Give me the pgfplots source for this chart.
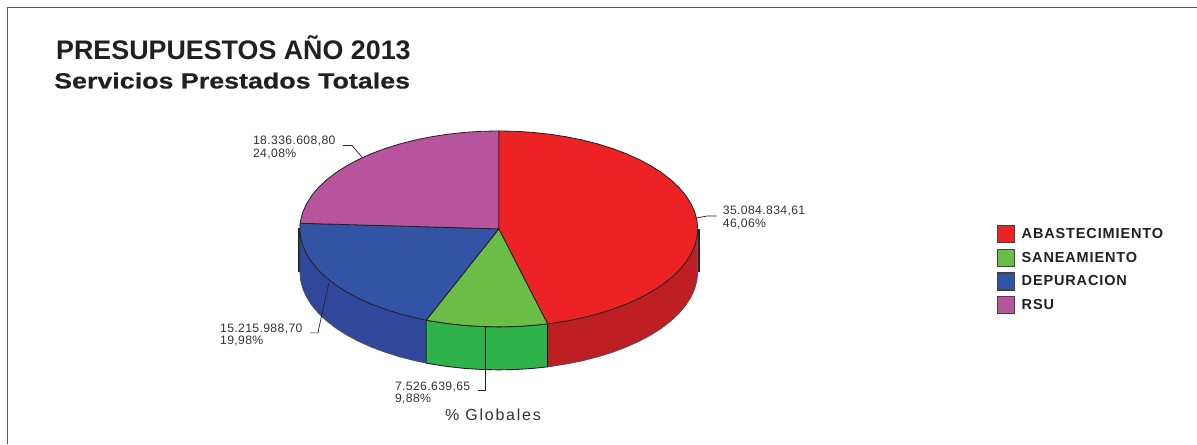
\documentclass[border=0pt]{standalone}
\usepackage{pgfplots}
\pgfplotsset{compat=1.18}
\usepackage{fontspec}
\setmainfont{Liberation Sans}
\newfontfamily\lab[LetterSpace=3]{Liberation Sans}
\newfontfamily\glob[LetterSpace=11]{Liberation Sans}
\newfontfamily\leg[LetterSpace=6]{Liberation Sans}
\newfontfamily\wide[FakeStretch=1.22,FakeBold=0.4]{Liberation Sans}
\definecolor{rtop}{HTML}{ED2224}
\definecolor{gtop}{HTML}{6ABD45}
\definecolor{btop}{HTML}{3353A4}
\definecolor{ptop}{HTML}{B8539D}
\definecolor{rside}{HTML}{BD1F25}
\definecolor{gside}{HTML}{2EB34B}
\definecolor{bside}{HTML}{30479B}
\definecolor{edge}{HTML}{231F20}
\definecolor{txt}{HTML}{333333}
\begin{document}
\begin{tikzpicture}
\begin{axis}[
  scale only axis, width=1197pt, height=444pt,
  xmin=0, xmax=1197, ymin=0, ymax=444, y dir=reverse,
  hide axis, clip=false,
  legend style={at={(axis cs:997.5,225)},anchor=north west,draw=none,fill=none,
    font=\fontsize{14.5}{16}\leg\bfseries\color{edge},
    row sep=5.7pt, inner sep=0pt, outer sep=0pt,
    /tikz/every odd column/.append style={column sep=5.5pt},
    nodes={inner sep=1pt}},
  legend cell align=left,
  legend image code/.code={\draw[#1,line width=1.1pt,draw=edge!85] (0pt,-8.5pt) rectangle (17pt,8.5pt);},
]
% page extent and frame
\addplot[draw=none,forget plot] coordinates {(0,0)(1197,444)};
\addplot[forget plot,draw=black!65,line width=1pt] coordinates {(8,444)(8,8)(1197,8)};
% sides
\addplot[forget plot,draw=edge,line width=1.7pt] coordinates {(298.8,228)(298.8,272)};
\addplot[forget plot,draw=edge,line width=1.7pt] coordinates {(699,229)(699,272)};
\addplot[forget plot,fill=rside,draw=edge!80,line width=.7pt] coordinates {(698,229)(697.24,237.54)(694.98,246.02)(691.22,254.36)(686,262.52)(679.36,270.42)(671.34,278)(662.01,285.21)(651.44,291.99)(639.71,298.30)(626.91,304.07)(613.14,309.28)(598.50,313.87)(583.10,317.82)(567.06,321.09)(550.51,323.66)(547.8,324)
 (547.8,367)(550.51,366.66)(567.06,364.09)(583.10,360.82)(598.50,356.87)(613.14,352.28)(626.91,347.07)(639.71,341.30)(651.44,334.99)(662.01,328.21)(671.34,321)(679.36,313.42)(686,305.52)(691.22,297.36)(694.98,289.02)(697.24,280.54)(698,272)} --cycle;
\addplot[forget plot,fill=bside,draw=edge!80,line width=.7pt] coordinates {(426.4,320.25)(414.9,317.82)(399.5,313.87)(384.86,309.28)(371.09,304.07)(358.29,298.30)(346.56,291.99)(335.99,285.21)(326.66,278)(318.64,270.42)(312,262.52)(306.78,254.36)(303.02,246.02)(300.76,237.54)(300,229)
 (300,272)(300.76,280.54)(303.02,289.02)(306.78,297.36)(312,305.52)(318.64,313.42)(326.66,321)(335.99,328.21)(346.56,334.99)(358.29,341.30)(371.09,347.07)(384.86,352.28)(399.5,356.87)(414.9,360.82)(426.4,363.25)} --cycle;
\addplot[forget plot,fill=gside,draw=edge,line width=.9pt] coordinates {(547.8,324)(533.56,325.51)(516.34,326.63)(499,327)(481.66,326.63)(464.44,325.51)(447.49,323.66)(430.94,321.09)(426.4,320.25)
 (426.4,363.25)(430.94,364.09)(447.49,366.66)(464.44,368.51)(481.66,369.63)(499,370)(516.34,369.63)(533.56,368.51)(547.8,367)} --cycle;
% top wedges
\addplot[fill=rtop,draw=edge,line width=.8pt] coordinates {(499,229)(499,131)(516.34,131.37)(533.56,132.49)(550.51,134.34)(567.06,136.91)(583.10,140.18)(598.50,144.13)(613.14,148.72)(626.91,153.93)(639.71,159.70)(651.44,166.01)(662.01,172.79)(671.34,180)(679.36,187.58)(686,195.48)(691.22,203.64)(694.98,211.98)(697.24,220.46)(698,229)(697.24,237.54)(694.98,246.02)(691.22,254.36)(686,262.52)(679.36,270.42)(671.34,278)(662.01,285.21)(651.44,291.99)(639.71,298.30)(626.91,304.07)(613.14,309.28)(598.50,313.87)(583.10,317.82)(567.06,321.09)(550.51,323.66)(547.8,324)} --cycle;
\addlegendentry{ABASTECIMIENTO}
\addplot[fill=gtop,draw=edge,line width=.8pt] coordinates {(499,229)(547.8,324)(533.56,325.51)(516.34,326.63)(499,327)(481.66,326.63)(464.44,325.51)(447.49,323.66)(430.94,321.09)(426.4,320.25)} --cycle;
\addlegendentry{SANEAMIENTO}
\addplot[fill=btop,draw=edge,line width=.8pt] coordinates {(499,229)(426.4,320.25)(414.9,317.82)(399.5,313.87)(384.86,309.28)(371.09,304.07)(358.29,298.30)(346.56,291.99)(335.99,285.21)(326.66,278)(318.64,270.42)(312,262.52)(306.78,254.36)(303.02,246.02)(300.76,237.54)(300,229)(300.33,223.36)} --cycle;
\addlegendentry{DEPURACION}
\addplot[fill=ptop,draw=edge,line width=.8pt] coordinates {(499,229)(300.33,223.36)(300.76,220.46)(303.02,211.98)(306.78,203.64)(312,195.48)(318.64,187.58)(326.66,180)(335.99,172.79)(346.56,166.01)(358.29,159.70)(371.09,153.93)(384.86,148.72)(399.5,144.13)(414.9,140.18)(430.94,136.91)(447.49,134.34)(464.44,132.49)(481.66,131.37)(499,131)} --cycle;
\addlegendentry{RSU}
% leaders
\addplot[forget plot,draw=edge,line width=.7pt] coordinates {(343,145.5)(352,145.5)(362,157)};
\addplot[forget plot,draw=edge,line width=.7pt] coordinates {(697,218)(708,216)(717,216)};
\addplot[forget plot,draw=edge,line width=.7pt] coordinates {(329,283)(318,333)(310,333)};
\addplot[forget plot,draw=edge,line width=.7pt] coordinates {(486,327)(486,391)(478,391)};
% text
\node[anchor=base west,inner sep=0pt,text=edge] at (axis cs:56,59.3) {\fontsize{26.85}{28}\selectfont\bfseries PRESUPUESTOS AÑO 2013};
\node[anchor=base west,inner sep=0pt,text=edge] at (axis cs:54,88.5) {\fontsize{22}{24}\wide\bfseries Servicios Prestados Totales};
\tikzset{lb/.style={anchor=base west,inner sep=0pt,text=txt,font=\fontsize{12.2}{14}\lab}}
\node[lb] at (axis cs:253,144.7) {18.336.608,80};
\node[lb] at (axis cs:253,157.3) {24,08\%};
\node[lb] at (axis cs:723,215) {35.084.834,61};
\node[lb] at (axis cs:723,227.6) {46,06\%};
\node[lb] at (axis cs:220,332.3) {15.215.988,70};
\node[lb] at (axis cs:220,345) {19,98\%};
\node[lb] at (axis cs:395,390.3) {7.526.639,65};
\node[lb] at (axis cs:395,403) {9,88\%};
\node[anchor=base west,inner sep=0pt,text=txt] at (axis cs:445,421) {\fontsize{16}{18}\glob \% Globales};
\end{axis}
\end{tikzpicture}
\end{document}
